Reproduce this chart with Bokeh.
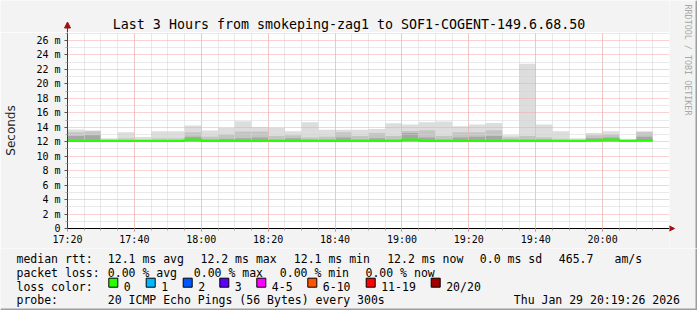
import math
from bokeh.plotting import figure
from bokeh.layouts import column, row
from bokeh.models import FixedTicker, ColumnDataSource, Range1d
from bokeh.core.properties import value
from bokeh.embed import file_html
from bokeh.resources import INLINE

# ---------------- data ----------------
title_text = "Last 3 Hours from smokeping-zag1 to SOF1-COGENT-149.6.68.50"
x_tick_labels = ["17:20", "17:40", "18:00", "18:20", "18:40", "19:00", "19:20", "19:40", "20:00"]
y_tick_values = [0, 2, 4, 6, 8, 10, 12, 14, 16, 18, 20, 22, 24, 26]
y_tick_labels = ["0", "2 m", "4 m", "6 m", "8 m", "10 m", "12 m", "14 m", "16 m",
                 "18 m", "20 m", "22 m", "24 m", "26 m"]

slot_times = ["17:20", "17:25", "17:30", "17:35", "17:40", "17:45", "17:50", "17:55",
              "18:00", "18:05", "18:10", "18:15", "18:20", "18:25", "18:30", "18:35",
              "18:40", "18:45", "18:50", "18:55", "19:00", "19:05", "19:10", "19:15",
              "19:20", "19:25", "19:30", "19:35", "19:40", "19:45", "19:50", "19:55",
              "20:00", "20:05", "20:10"]
# smoke (ms): max ping, upper outer band, upper inner band, min ping
smoke_max = [13.7, 13.55, 12.5, 13.3, 12.65, 13.45, 13.45, 14.25, 13.55, 13.9, 14.85, 14.0,
             13.9, 13.45, 14.7, 13.65, 13.65, 13.65, 13.75, 14.55, 14.4, 14.7, 14.8, 14.15,
             14.4, 14.6, 12.9, 22.8, 14.4, 13.45, 12.5, 13.2, 13.45, 12.4, 13.45]
smoke_mid = [13.3, 13.45, 12.35, 12.5, 12.35, 12.5, 12.5, 13.3, 12.7, 13.0, 13.4, 13.4,
             12.8, 12.9, 12.6, 12.7, 13.3, 12.8, 13.2, 12.8, 13.5, 13.6, 12.8, 13.3,
             13.3, 13.6, 12.6, 12.8, 12.6, 12.4, 12.3, 12.9, 13.0, 12.3, 13.3]
smoke_inner = [12.8, 12.9, 12.2, 12.2, 12.2, 12.2, 12.2, 12.7, 12.3, 12.4, 12.5, 12.6,
               12.3, 12.5, 12.3, 12.3, 12.6, 12.3, 12.5, 12.3, 13.2, 12.6, 12.3, 12.6,
               12.7, 12.8, 12.3, 12.3, 12.3, 12.2, 12.2, 12.5, 12.6, 12.2, 12.7]
smoke_min = [12.0, 12.0, 12.0, 12.0, 12.0, 12.0, 12.0, 11.95, 12.0, 12.0, 12.0, 12.0,
             12.0, 12.0, 12.0, 12.0, 12.0, 12.0, 12.0, 12.0, 12.0, 12.0, 12.0, 12.0,
             12.0, 12.0, 12.0, 12.0, 12.0, 12.0, 12.0, 12.0, 12.0, 12.0, 12.0]
median_ms = [12.1, 12.1, 12.1, 12.1, 12.1, 12.1, 12.1, 12.3, 12.1, 12.1, 12.1, 12.1,
             12.1, 12.1, 12.1, 12.1, 12.1, 12.1, 12.1, 12.1, 12.3, 12.1, 12.1, 12.1,
             12.1, 12.1, 12.1, 12.1, 12.1, 12.1, 12.1, 12.2, 12.3, 12.1, 12.2]
slot_minutes = 5

rtt_row = ["median rtt:", "12.1 ms avg", "12.2 ms max", "12.1 ms min", "12.2 ms now",
           "0.0 ms sd", "465.7", "am/s"]
loss_row = ["packet loss:", "0.00 % avg", "0.00 % max", "0.00 % min", "0.00 % now"]
loss_labels = ["0", "1", "2", "3", "4-5", "6-10", "11-19", "20/20"]
loss_colors = ["#26ff00", "#00b8ff", "#0059ff", "#5e00ff", "#ff00ff", "#ff5500",
               "#ff0000", "#a10000"]
probe_row = ["probe:", "20 ICMP Echo Pings (56 Bytes) every 300s", "Thu Jan 29 20:19:26 2026"]
side_text = "RRDTOOL / TOBI OETIKER"

# ---------------- layout ----------------
W, H = 697, 310
FL, FR, FT, FB = 67, 669, 32, 228   # plot frame edges (canvas px)
PX_PER_MS = 7.23
LEG_TOP = 248                        # legend strip starts here
BG = "#f3f3f3"
SHADE = "#9e9e9e"
MONO = "DejaVu Sans Mono"
AX_RED = "#a01010"
AX_LINE = "#802020"


def to_min(s):
    h, m = map(int, s.split(":"))
    return h * 60 + m - (17 * 60 + 20)


def pixel_fig(x0, x1, y0, y1):
    """A figure whose frame fills its canvas, with data coords = canvas pixels."""
    f = figure(width=x1 - x0, height=y1 - y0, output_backend="svg", toolbar_location=None,
               x_range=Range1d(x0, x1), y_range=Range1d(y1, y0),
               x_axis_type=None, y_axis_type=None, min_border=0,
               background_fill_color=BG, border_fill_color=BG, outline_line_color=None)
    f.xgrid.visible = False
    f.ygrid.visible = False
    return f


def put_text(f, xs, y, texts, size="11.5px", color="#000000", align="left",
             baseline="alphabetic", angle=0.0):
    f.text(x=xs, y=[y] * len(xs), text=texts, text_font=value(MONO),
           text_font_size=size, text_color=color, text_align=align,
           text_baseline=baseline, angle=angle)


# ---- top strip: title + y-axis arrow head ----
top = pixel_fig(0, FR, 0, FT)
put_text(top, [348.5], 24.3, [title_text], size="13.3px", align="center")
top.segment(x0=[FL], y0=[FT], x1=[FL], y1=[25], line_color=AX_LINE, line_width=1)
top.patch(x=[FL - 3, FL + 3, FL], y=[27.5, 27.5, 21.5], fill_color=AX_RED,
          line_color=AX_RED)

# ---- main plot ----
starts = [to_min(t) for t in slot_times]
ends = [s + slot_minutes for s in starts]
src = ColumnDataSource(dict(left=starts, right=ends, lo=smoke_min, hi=smoke_max,
                            mid=smoke_mid, inner=smoke_inner))

p = figure(width=FR, height=LEG_TOP - FT, output_backend="svg", toolbar_location=None,
           x_range=Range1d(0, 180), y_range=Range1d(0, (FB - FT) / PX_PER_MS),
           min_border_left=FL, min_border_right=0, min_border_top=0,
           min_border_bottom=LEG_TOP - FB, background_fill_color="white",
           border_fill_color=BG, outline_line_color=None)

for topcol, col in (("hi", "#dddddd"), ("mid", "#c4c4c4"), ("inner", "#a6a6a6")):
    p.quad(left="left", right="right", bottom="lo", top=topcol, source=src,
           fill_color=col, line_color=None, level="image")

xs = starts + [ends[-1]]
ys = median_ms + [median_ms[-1]]
p.step(xs, ys, mode="after", line_color=loss_colors[0], line_width=2.2)

x_ticks = [to_min(t) for t in x_tick_labels]
p.xaxis.ticker = FixedTicker(ticks=x_ticks, minor_ticks=list(range(0, 181, 5)))
p.xaxis.major_label_overrides = {t: l for t, l in zip(x_ticks, x_tick_labels)}
p.yaxis.ticker = FixedTicker(ticks=y_tick_values, minor_ticks=list(range(1, 28, 2)))
p.yaxis.major_label_overrides = {t: l for t, l in zip(y_tick_values, y_tick_labels)}

for ax in (p.xaxis[0], p.yaxis[0]):
    ax.major_label_text_font = MONO
    ax.major_label_text_font_size = "10px"
    ax.major_label_text_color = "#000000"
    ax.minor_tick_line_color = "#aaaaaa"
    ax.minor_tick_in = 0
    ax.minor_tick_out = 2
    ax.major_tick_in = 0
    ax.major_tick_out = 3

p.xaxis.axis_line_color = "#000000"
p.xaxis.major_tick_line_color = "#e07070"
p.xaxis.major_label_standoff = 2
p.yaxis.axis_line_color = AX_LINE
p.yaxis.major_tick_line_color = "#555555"
p.yaxis.major_label_standoff = 4
p.yaxis.axis_label = "Seconds"
p.yaxis.axis_label_text_font = "DejaVu Sans"
p.yaxis.axis_label_text_font_size = "12px"
p.yaxis.axis_label_text_font_style = "normal"
p.yaxis.axis_label_text_color = "#222222"
p.yaxis.axis_label_standoff = 15

for g in (p.xgrid[0], p.ygrid[0]):
    g.grid_line_color = "#f4a4a4"
    g.grid_line_dash = "1 1"
    g.minor_grid_line_color = "#d2d2d2"
    g.minor_grid_line_dash = "1 1"

# ---- right strip: x-axis arrow head, credit text, right shadow ----
side = pixel_fig(FR, W, 0, LEG_TOP)
side.segment(x0=[FR], y0=[FB], x1=[FR + 3], y1=[FB], line_color="#000000", line_width=1)
side.patch(x=[FR - 1, FR - 1, FR + 5], y=[FB - 3, FB + 3, FB], fill_color=AX_RED,
           line_color=AX_RED)
put_text(side, [687], 4, [side_text], size="8.4px", color="#a8a8a8",
         baseline="middle", angle=-math.pi / 2)
side.quad(left=[W - 2], right=[W], top=[0], bottom=[LEG_TOP], fill_color=SHADE,
          line_color=None)

# ---- legend strip ----
leg = pixel_fig(0, W, LEG_TOP, H)
row_y = [258.3, 272.3, 286.0, 299.7]
put_text(leg, [16, 107.3, 200, 293.3, 386.7, 479.3, 558.3, 614], row_y[0], rtt_row)
put_text(leg, [16, 107.3, 193.3, 279.3, 365], row_y[1], loss_row)
put_text(leg, [16], row_y[2], ["loss color:"])
sq_x = [108.3, 145.7, 182.7, 219.3, 256.3, 307.3, 365.7, 430.7]
leg.quad(left=sq_x, right=[x + 9 for x in sq_x], top=[277.7] * len(sq_x),
         bottom=[286.7] * len(sq_x), fill_color=loss_colors, line_color="#000000",
         line_width=1)
put_text(leg, [x + 15 for x in sq_x], row_y[2], loss_labels)
put_text(leg, [16, 107.3, 513.3], row_y[3], probe_row)
leg.quad(left=[0, W - 2], right=[W, W], top=[H - 2, LEG_TOP], bottom=[H, H],
         fill_color=SHADE, line_color=None)

# wrap the top strip in its own row so its frame is not aligned with the plot's
layout = column(row(column(row(top, spacing=0), p, spacing=0), side, spacing=0),
                leg, spacing=0)
open("out.html", "w").write(file_html(layout, INLINE))
